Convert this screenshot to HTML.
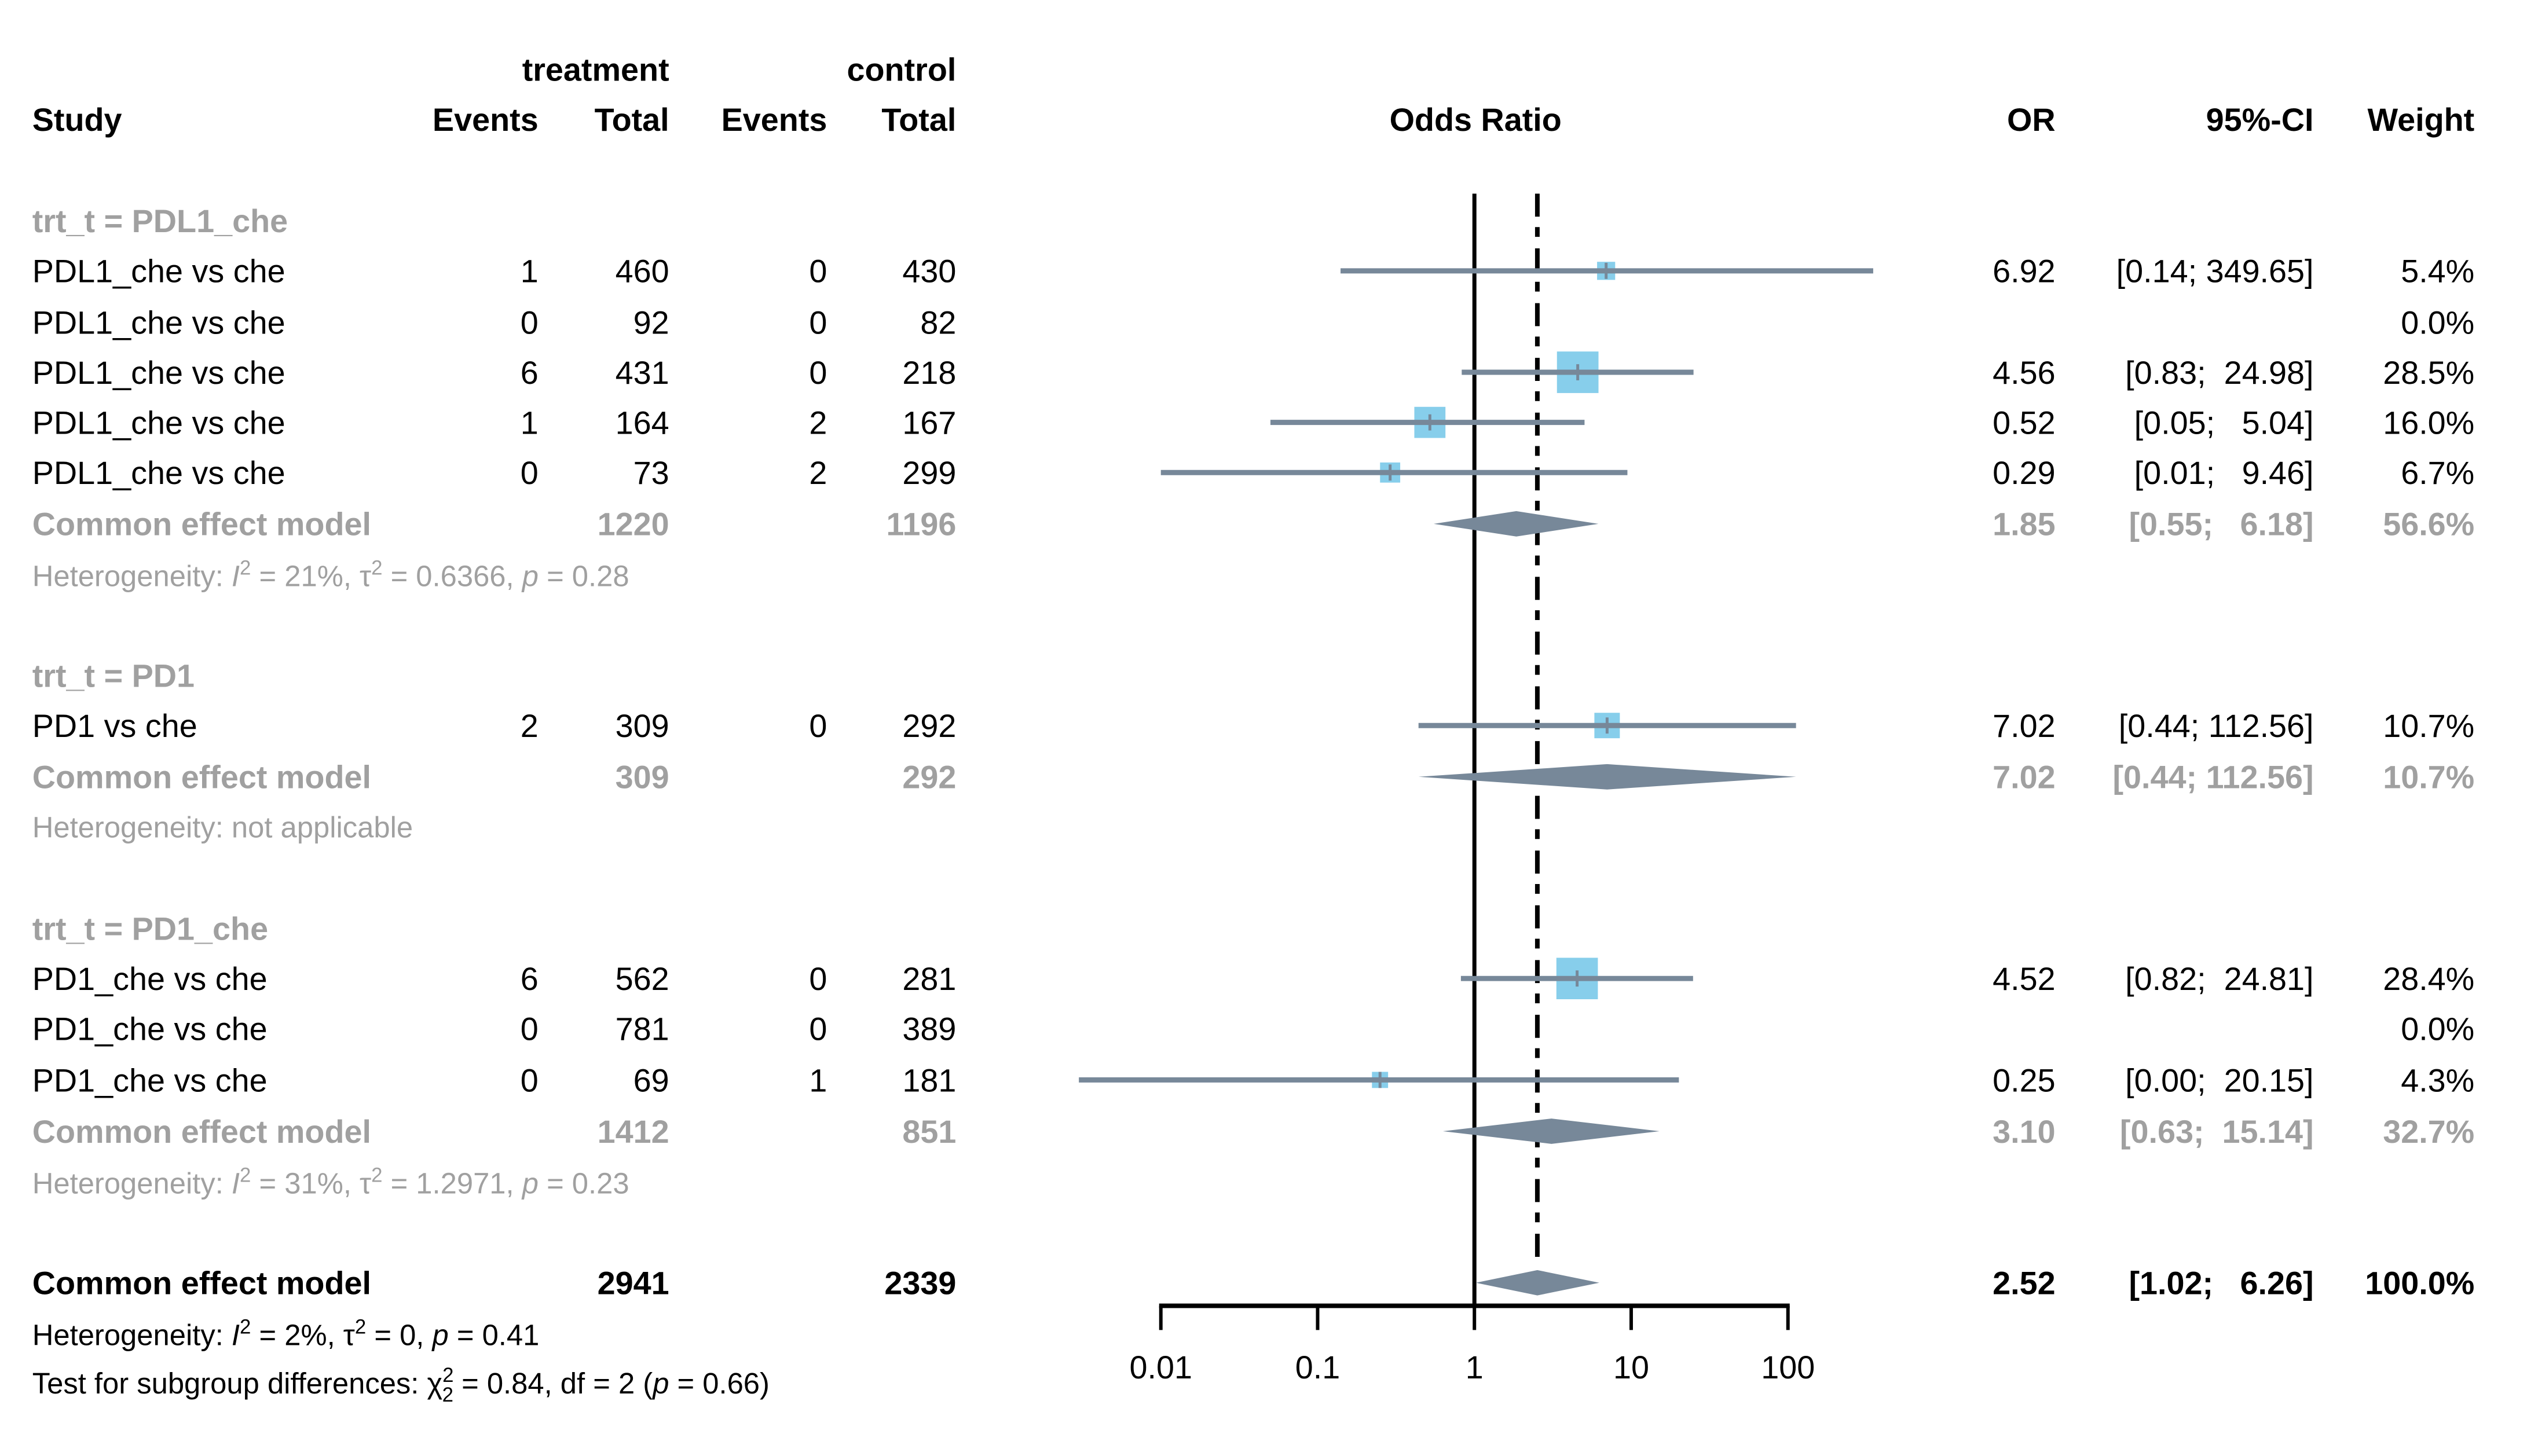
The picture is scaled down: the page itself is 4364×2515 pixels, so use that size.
<!DOCTYPE html>
<html><head><meta charset="utf-8"><style>
html,body{margin:0;padding:0;background:#fff;}
svg{display:block;font-family:"Liberation Sans",Arial,sans-serif;}
text{white-space:pre;}
</style></head><body>
<svg id="forest" width="4364" height="2515" viewBox="0 0 4364 2515" xmlns="http://www.w3.org/2000/svg">
<g transform="scale(0.9954)">
<g id="txt" font-size="56"></g>
<g id="marks"></g>
</g>
</svg>
<script>
// ---- data ----
const studyOR = [6.92, null, 4.56, 0.52, 0.29, 7.02, 4.52, null, 0.25];
const studyLo = [0.14, null, 0.83, 0.05, 0.01, 0.44, 0.82, null, 0.00];
const studyHi = [349.65, null, 24.98, 5.04, 9.46, 112.56, 24.81, null, 20.15];
const studyWeight = [5.4, 0.0, 28.5, 16.0, 6.7, 10.7, 28.4, 0.0, 4.3];
const studyRowY = [470, 559, 646, 733, 820, 1259, 1698, 1785, 1874];
const studyLoPlot = [0.14, null, 0.83, 0.05, 0.01, 0.44, 0.82, null, 0.003];
const pooledOR = [1.85, 7.02, 3.10, 2.52];
const pooledLo = [0.55, 0.44, 0.63, 1.02];
const pooledHi = [6.18, 112.56, 15.14, 6.26];
const pooledRowY = [909, 1348, 1963, 2226];
const tickValues = [0.01, 0.1, 1, 10, 100];
const tickLabels = ["0.01", "0.1", "1", "10", "100"];
const overallOR = 2.52;

const NS = "http://www.w3.org/2000/svg";
const X0 = 2558, DEC = 272;
function xs(v){ return X0 + DEC*Math.log10(v); }
const marks = document.getElementById('marks');
const txt = document.getElementById('txt');
function el(tag, attrs, parent){ const e=document.createElementNS(NS,tag); for(const k in attrs) e.setAttribute(k,attrs[k]); parent.appendChild(e); return e; }
function T(x,y,s,opt){ opt=opt||{}; const t=el('text',{x:x,y:y+20,'text-anchor':opt.a||'start',fill:opt.c||'#000','font-weight':opt.b?'bold':'normal','font-size':opt.fs||56},txt); t.textContent=s;
 
 
 return t; }

// headers
T(1161,120,"treatment",{a:'end',b:1,n:'treatment-header'});
T(1659,120,"control",{a:'end',b:1,n:'control-header'});
T(56,207,"Study",{b:1,n:'study-header'});
T(934,207,"Events",{a:'end',b:1,n:'treatment-events-header'});
T(1161,207,"Total",{a:'end',b:1,n:'treatment-total-header'});
T(1435,207,"Events",{a:'end',b:1,n:'control-events-header'});
T(1659,207,"Total",{a:'end',b:1,n:'control-total-header'});
T(2560,207,"Odds Ratio",{a:'middle',b:1,n:'odds-ratio-header'});
T(3566,207,"OR",{a:'end',b:1,n:'or-header'});
T(4014,207,"95%-CI",{a:'end',b:1,n:'ci-header'});
T(4293,207,"Weight",{a:'end',b:1,n:'weight-header'});

const G='#a0a0a0';
const rows=[
 [383,'grp',"trt_t = PDL1_che"],
 [470,'s',"PDL1_che vs che","1","460","0","430","6.92","[0.14; 349.65]","5.4%"],
 [559,'s',"PDL1_che vs che","0","92","0","82","","","0.0%"],
 [646,'s',"PDL1_che vs che","6","431","0","218","4.56","[0.83;  24.98]","28.5%"],
 [733,'s',"PDL1_che vs che","1","164","2","167","0.52","[0.05;   5.04]","16.0%"],
 [820,'s',"PDL1_che vs che","0","73","2","299","0.29","[0.01;   9.46]","6.7%"],
 [909,'ce',"Common effect model","","1220","","1196","1.85","[0.55;   6.18]","56.6%"],
 [1172,'grp',"trt_t = PD1"],
 [1259,'s',"PD1 vs che","2","309","0","292","7.02","[0.44; 112.56]","10.7%"],
 [1348,'ce',"Common effect model","","309","","292","7.02","[0.44; 112.56]","10.7%"],
 [1611,'grp',"trt_t = PD1_che"],
 [1698,'s',"PD1_che vs che","6","562","0","281","4.52","[0.82;  24.81]","28.4%"],
 [1785,'s',"PD1_che vs che","0","781","0","389","","","0.0%"],
 [1874,'s',"PD1_che vs che","0","69","1","181","0.25","[0.00;  20.15]","4.3%"],
 [1963,'ce',"Common effect model","","1412","","851","3.10","[0.63;  15.14]","32.7%"],
 [2226,'ov',"Common effect model","","2941","","2339","2.52","[1.02;   6.26]","100.0%"]
];
const cols=[934,1161,1435,1659,3566,4014,4293];
rows.forEach(r=>{
 const y=r[0], k=r[1];
 const c = (k==='grp'||k==='ce')?G:'#000';
 const b = (k==='grp'||k==='ce'||k==='ov');
 T(56,y,r[2],{c:c,b:b,n:k==='grp'?'subgroup-label':(k==='s'?'study-label':'pooled-label')});
 for(let i=0;i<7;i++){ if(r[3+i]) T(cols[i],y,r[3+i],{a:'end',c:c,b:(k==='ov'||k==='ce'),n:'table-value'}); }
});
function het(y,html,c,name){
 const t=el('text',{x:56,y:y+18,'font-size':51,fill:c},txt); t.innerHTML=html;
 
 
}
const sup='<tspan dy="-20" font-size="35">2</tspan><tspan dy="20"> </tspan>';
het(999,'Heterogeneity: <tspan font-style="italic">I</tspan>'+sup+'= 21%, τ'+sup+'= 0.6366, <tspan font-style="italic">p</tspan> = 0.28',G,'heterogeneity-pdl1-che');
het(1435,'Heterogeneity: not applicable',G,'heterogeneity-pd1');
het(2053,'Heterogeneity: <tspan font-style="italic">I</tspan>'+sup+'= 31%, τ'+sup+'= 1.2971, <tspan font-style="italic">p</tspan> = 0.23',G,'heterogeneity-pd1-che');
het(2316,'Heterogeneity: <tspan font-style="italic">I</tspan>'+sup+'= 2%, τ'+sup+'= 0, <tspan font-style="italic">p</tspan> = 0.41','#000','heterogeneity-overall');
het(2400,'Test for subgroup differences: χ<tspan dy="-20" font-size="35">2</tspan><tspan dy="34" dx="-20" font-size="35">2</tspan><tspan dy="-14"> = 0.84, df = 2 (</tspan><tspan font-style="italic">p</tspan> = 0.66)','#000','subgroup-test');

// reference lines
let l=el('line',{x1:xs(1),x2:xs(1),y1:336,y2:2266,stroke:'#000','stroke-width':7},marks);


l=el('line',{x1:xs(overallOR),x2:xs(overallOR),y1:336,y2:2190,stroke:'#000','stroke-width':8,'stroke-dasharray':'40 18 17 20'},marks);



// studies
for(let i=0;i<studyOR.length;i++){
 if(studyOR[i]===null || studyWeight[i]===0) continue;
 const y=studyRowY[i];
 const s=13.5*Math.sqrt(studyWeight[i]);
 const sq=el('rect',{x:xs(studyOR[i])-s/2,y:y-s/2,width:s,height:s,fill:'#87ceeb'},marks);
 
 
 const ci=el('line',{x1:xs(studyLoPlot[i]),x2:xs(studyHi[i]),y1:y,y2:y,stroke:'#778899','stroke-width':9},marks);
 
 
 const pt=el('line',{x1:xs(studyOR[i]),x2:xs(studyOR[i]),y1:y-14,y2:y+14,stroke:'#778899','stroke-width':5},marks);
 
 
}
// diamonds
for(let i=0;i<pooledOR.length;i++){
 const y=pooledRowY[i], h=22;
 const d=el('polygon',{points:`${xs(pooledLo[i])},${y} ${xs(pooledOR[i])},${y-h} ${xs(pooledHi[i])},${y} ${xs(pooledOR[i])},${y+h}`,fill:'#778899'},marks);
 
 
}
// axis
l=el('line',{x1:xs(tickValues[0])-3,x2:xs(tickValues[tickValues.length-1])+3,y1:2266,y2:2266,stroke:'#000','stroke-width':8},marks);


tickValues.forEach((v,i)=>{
 const tk=el('line',{x1:xs(v),x2:xs(v),y1:2266,y2:2308,stroke:'#000','stroke-width':6},marks);
 
 
 const t=el('text',{x:xs(v),y:2392,'text-anchor':'middle','font-size':56,fill:'#000'},marks);
 t.textContent=tickLabels[i];
 
 
});
</script>
</body></html>
